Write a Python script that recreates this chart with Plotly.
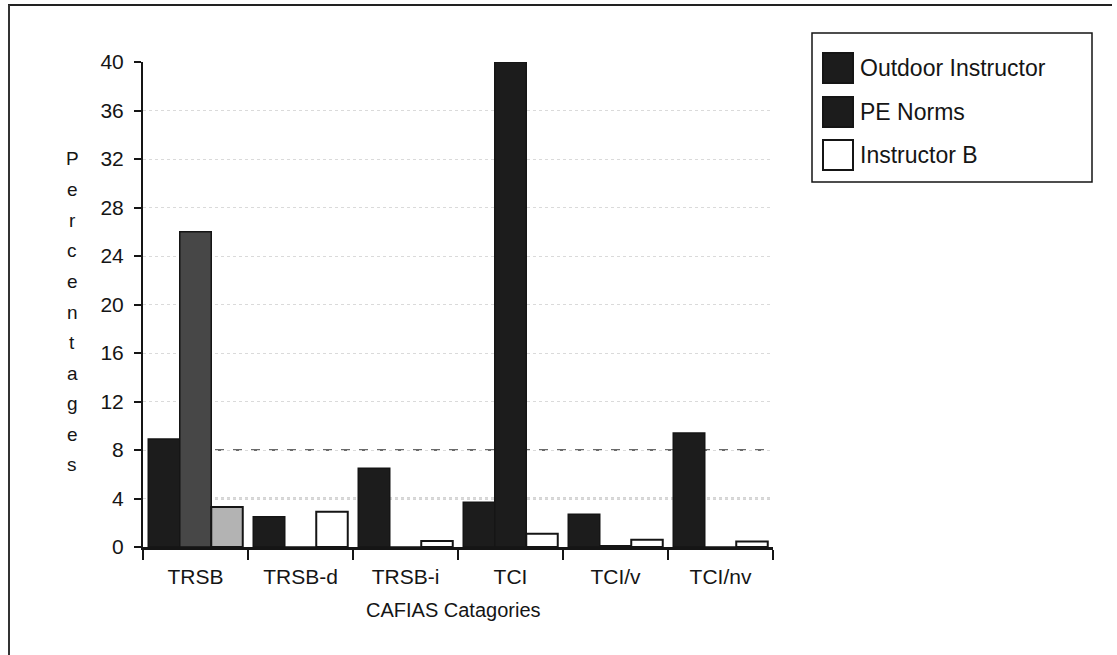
import plotly.graph_objects as go

# CAFIAS category percentages for each observed group
categories = ["TRSB", "TRSB-d", "TRSB-i", "TCI", "TCI/v", "TCI/nv"]
outdoor_instructor = [8.9, 2.5, 6.5, 3.7, 2.7, 9.4]
pe_norms = [26.0, 0.0, 0.0, 40.0, 0.1, 0.0]
instructor_b = [3.3, 2.9, 0.5, 1.1, 0.6, 0.45]
series_names = ["Outdoor Instructor", "PE Norms", "Instructor B"]
y_ticks = [0, 4, 8, 12, 16, 20, 24, 28, 32, 36, 40]
y_title = "Percentages"
x_title = "CAFIAS Catagories"

W, H = 1117, 655
L, R, T, B = 143, 773, 62, 547  # plot area in pixels


def px(x):
    return (x - L) / (R - L)


def py(y):
    return (B - y) / (B - T)


FONT = "Liberation Sans, Arial, Helvetica, sans-serif"
INK = "#151515"

outdoor_colors = ["#1c1c1c"] * len(categories)
pe_colors = ["#474747", "#1c1c1c", "#1c1c1c", "#1c1c1c", "#1c1c1c", "#1c1c1c"]
instr_b_colors = ["#b3b3b3", "white", "white", "white", "white", "white"]

fig = go.Figure()
fig.add_trace(go.Bar(x=categories, y=outdoor_instructor, name=series_names[0],
                     marker=dict(color=outdoor_colors, line=dict(color=INK, width=1.5))))
fig.add_trace(go.Bar(x=categories, y=pe_norms, name=series_names[1],
                     marker=dict(color=pe_colors, line=dict(color=INK, width=1.5))))
fig.add_trace(go.Bar(x=categories, y=instructor_b, name=series_names[2],
                     marker=dict(color=instr_b_colors, line=dict(color=INK, width=2))))

shapes = []
# broken reference lines at 4 and 8
shapes.append(dict(type="line", xref="paper", yref="y", x0=px(215), x1=px(770), y0=8, y1=8,
                   line=dict(color="#3a3a3a", width=1.5, dash="dash"), layer="below"))
shapes.append(dict(type="line", xref="paper", yref="y", x0=px(215), x1=px(770), y0=4, y1=4,
                   line=dict(color="#555", width=1.5, dash="dot"), layer="below"))
# outer frame (top and left edges)
shapes.append(dict(type="line", xref="paper", yref="paper", x0=px(8), x1=px(1112), y0=py(5), y1=py(5),
                   line=dict(color="#222", width=2)))
shapes.append(dict(type="line", xref="paper", yref="paper", x0=px(9), x1=px(9), y0=py(5), y1=py(655),
                   line=dict(color="#333", width=2)))
# legend box
shapes.append(dict(type="rect", xref="paper", yref="paper", x0=px(812), x1=px(1092), y0=py(182), y1=py(33),
                   line=dict(color=INK, width=1.5), fillcolor="white"))

annotations = []
legend_fills = ["#1c1c1c", "#1c1c1c", "white"]
legend_rows = [68, 112, 155]
for name, fill, yc in zip(series_names, legend_fills, legend_rows):
    shapes.append(dict(type="rect", xref="paper", yref="paper", x0=px(823), x1=px(853),
                       y0=py(yc + 15), y1=py(yc - 15),
                       line=dict(color=INK, width=2), fillcolor=fill))
    annotations.append(dict(xref="paper", yref="paper", x=px(858), y=py(yc), text=name,
                            showarrow=False, xanchor="left", yanchor="middle",
                            font=dict(family=FONT, size=23, color=INK)))

# stacked vertical y-axis title
for i, ch in enumerate(y_title):
    annotations.append(dict(xref="paper", yref="paper", x=px(72), y=py(159 + i * 30.6), text=ch,
                            showarrow=False, xanchor="center", yanchor="middle",
                            font=dict(family=FONT, size=19, color=INK)))

annotations.append(dict(xref="paper", yref="paper", x=px(453), y=py(610), text=x_title,
                        showarrow=False, xanchor="center", yanchor="middle",
                        font=dict(family=FONT, size=20, color=INK)))

fig.update_layout(
    width=W, height=H,
    margin=dict(l=L, r=W - R, t=T, b=H - B, pad=0),
    paper_bgcolor="white", plot_bgcolor="white",
    barmode="group", bargap=0.1, bargroupgap=0.0,
    showlegend=False,
    font=dict(family=FONT, size=20, color=INK),
    shapes=shapes, annotations=annotations,
)
fig.update_xaxes(type="category", categoryorder="array", categoryarray=categories,
                 showline=True, linecolor=INK, linewidth=2.5, mirror=False,
                 ticks="outside", tickson="boundaries", ticklen=10, tickwidth=1.5, tickcolor=INK,
                 ticklabelstandoff=9,
                 showgrid=False, tickfont=dict(family=FONT, size=21, color=INK))
fig.update_yaxes(range=[0, 40], tickvals=y_ticks, ticktext=[str(v) for v in y_ticks],
                 showline=True, linecolor=INK, linewidth=2, zeroline=False,
                 ticks="outside", ticklen=7, tickwidth=1.5, tickcolor=INK,
                 showgrid=True, gridcolor="#dadada", griddash="dot", gridwidth=1,
                 ticklabelstandoff=6,
                 tickfont=dict(family=FONT, size=21, color=INK))

fig.write_html("out.html")
